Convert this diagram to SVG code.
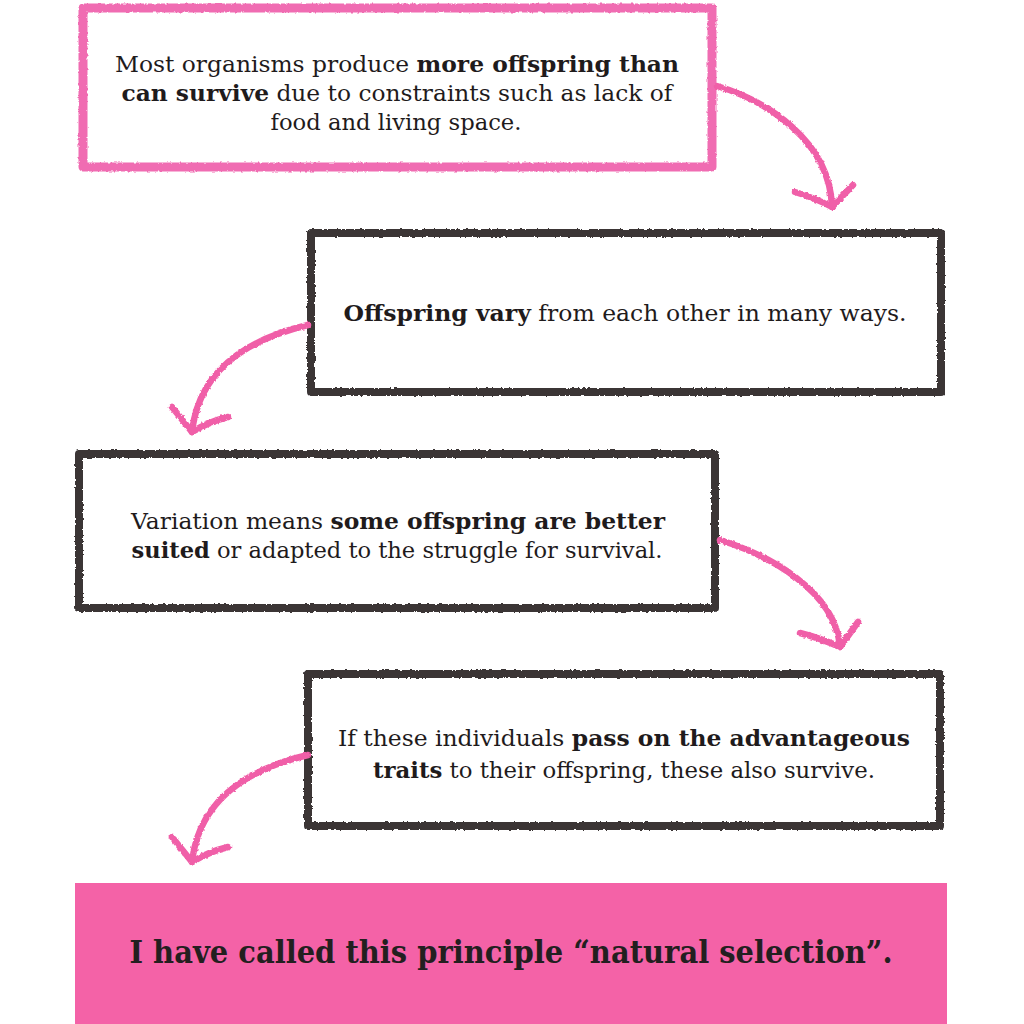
<svg xmlns="http://www.w3.org/2000/svg" width="1024" height="1024" viewBox="0 0 1024 1024">
  <defs>
    <filter id="rough" x="-5%" y="-5%" width="110%" height="110%">
      <feTurbulence type="fractalNoise" baseFrequency="0.35" numOctaves="2" seed="3" result="n"/>
      <feDisplacementMap in="SourceGraphic" in2="n" scale="3" xChannelSelector="R" yChannelSelector="G"/>
    </filter>
    <style>
      .pinkbox { fill: #ffffff; stroke: #f06cb2; stroke-width: 9; stroke-linejoin: round; }
      .darkbox { fill: #ffffff; stroke: #3a3536; stroke-width: 8; stroke-linejoin: round; }
      .txt { font-family: "DejaVu Serif", "Liberation Serif", serif; font-size: 22px; fill: #1f1b1c; text-anchor: middle; }
      .b { font-weight: bold; }
      .final { font-family: "DejaVu Serif Condensed", "DejaVu Serif", serif; font-stretch: condensed; font-weight: bold; font-size: 31px; fill: #231f20; text-anchor: middle; }
      .arrow { fill: none; stroke: #f05fa8; stroke-width: 6.5; stroke-linecap: round; stroke-linejoin: round; }
    </style>
  </defs>
  <rect width="1024" height="1024" fill="#ffffff"/>

  <g id="node1">
    <rect class="pinkbox" x="83" y="8" width="629" height="159" filter="url(#rough)"/>
    <text class="txt" x="397" y="72" textLength="564" lengthAdjust="spacingAndGlyphs">Most organisms produce <tspan class="b">more offspring than</tspan></text>
    <text class="txt" x="397" y="101" textLength="551" lengthAdjust="spacingAndGlyphs"><tspan class="b">can survive</tspan> due to constraints such as lack of</text>
    <text class="txt" x="396" y="130" textLength="251" lengthAdjust="spacingAndGlyphs">food and living space.</text>
  </g>

  <g id="node2">
    <rect class="darkbox" x="311" y="233" width="630" height="159" filter="url(#rough)"/>
    <text class="txt" x="625" y="321" textLength="563" lengthAdjust="spacingAndGlyphs"><tspan class="b">Offspring vary</tspan> from each other in many ways.</text>
  </g>

  <g id="node3">
    <rect class="darkbox" x="79" y="454" width="636" height="154" filter="url(#rough)"/>
    <text class="txt" x="398" y="529" textLength="534" lengthAdjust="spacingAndGlyphs">Variation means <tspan class="b">some offspring are better</tspan></text>
    <text class="txt" x="397" y="558" textLength="531" lengthAdjust="spacingAndGlyphs"><tspan class="b">suited</tspan> or adapted to the struggle for survival.</text>
  </g>

  <g id="node4">
    <rect class="darkbox" x="308" y="674" width="632" height="152" filter="url(#rough)"/>
    <text class="txt" x="624" y="746" textLength="572" lengthAdjust="spacingAndGlyphs">If these individuals <tspan class="b">pass on the advantageous</tspan></text>
    <text class="txt" x="624" y="778" textLength="502" lengthAdjust="spacingAndGlyphs"><tspan class="b">traits</tspan> to their offspring, these also survive.</text>
  </g>

  <g id="node5">
    <rect x="75" y="883" width="872" height="141" fill="#f462a7"/>
    <text class="final" x="511" y="963" textLength="763" lengthAdjust="spacingAndGlyphs">I have called this principle “natural selection”.</text>
  </g>

  <g id="connectors" filter="url(#rough)">
    <path class="arrow" d="M717,86 C765,100 830,140 832,207"/>
    <path class="arrow" d="M795,192 Q815,198 832,207 L853,185"/>
    <path class="arrow" d="M308,325 C265,335 200,360 192,432"/>
    <path class="arrow" d="M172,407 L192,432 Q208,422 228,417"/>
    <path class="arrow" d="M720,540 C768,555 835,590 840,647"/>
    <path class="arrow" d="M800,633 Q820,638 840,647 L858,622"/>
    <path class="arrow" d="M308,755 C265,765 200,790 192,862"/>
    <path class="arrow" d="M172,837 L192,862 Q208,852 228,847"/>
  </g>
</svg>
